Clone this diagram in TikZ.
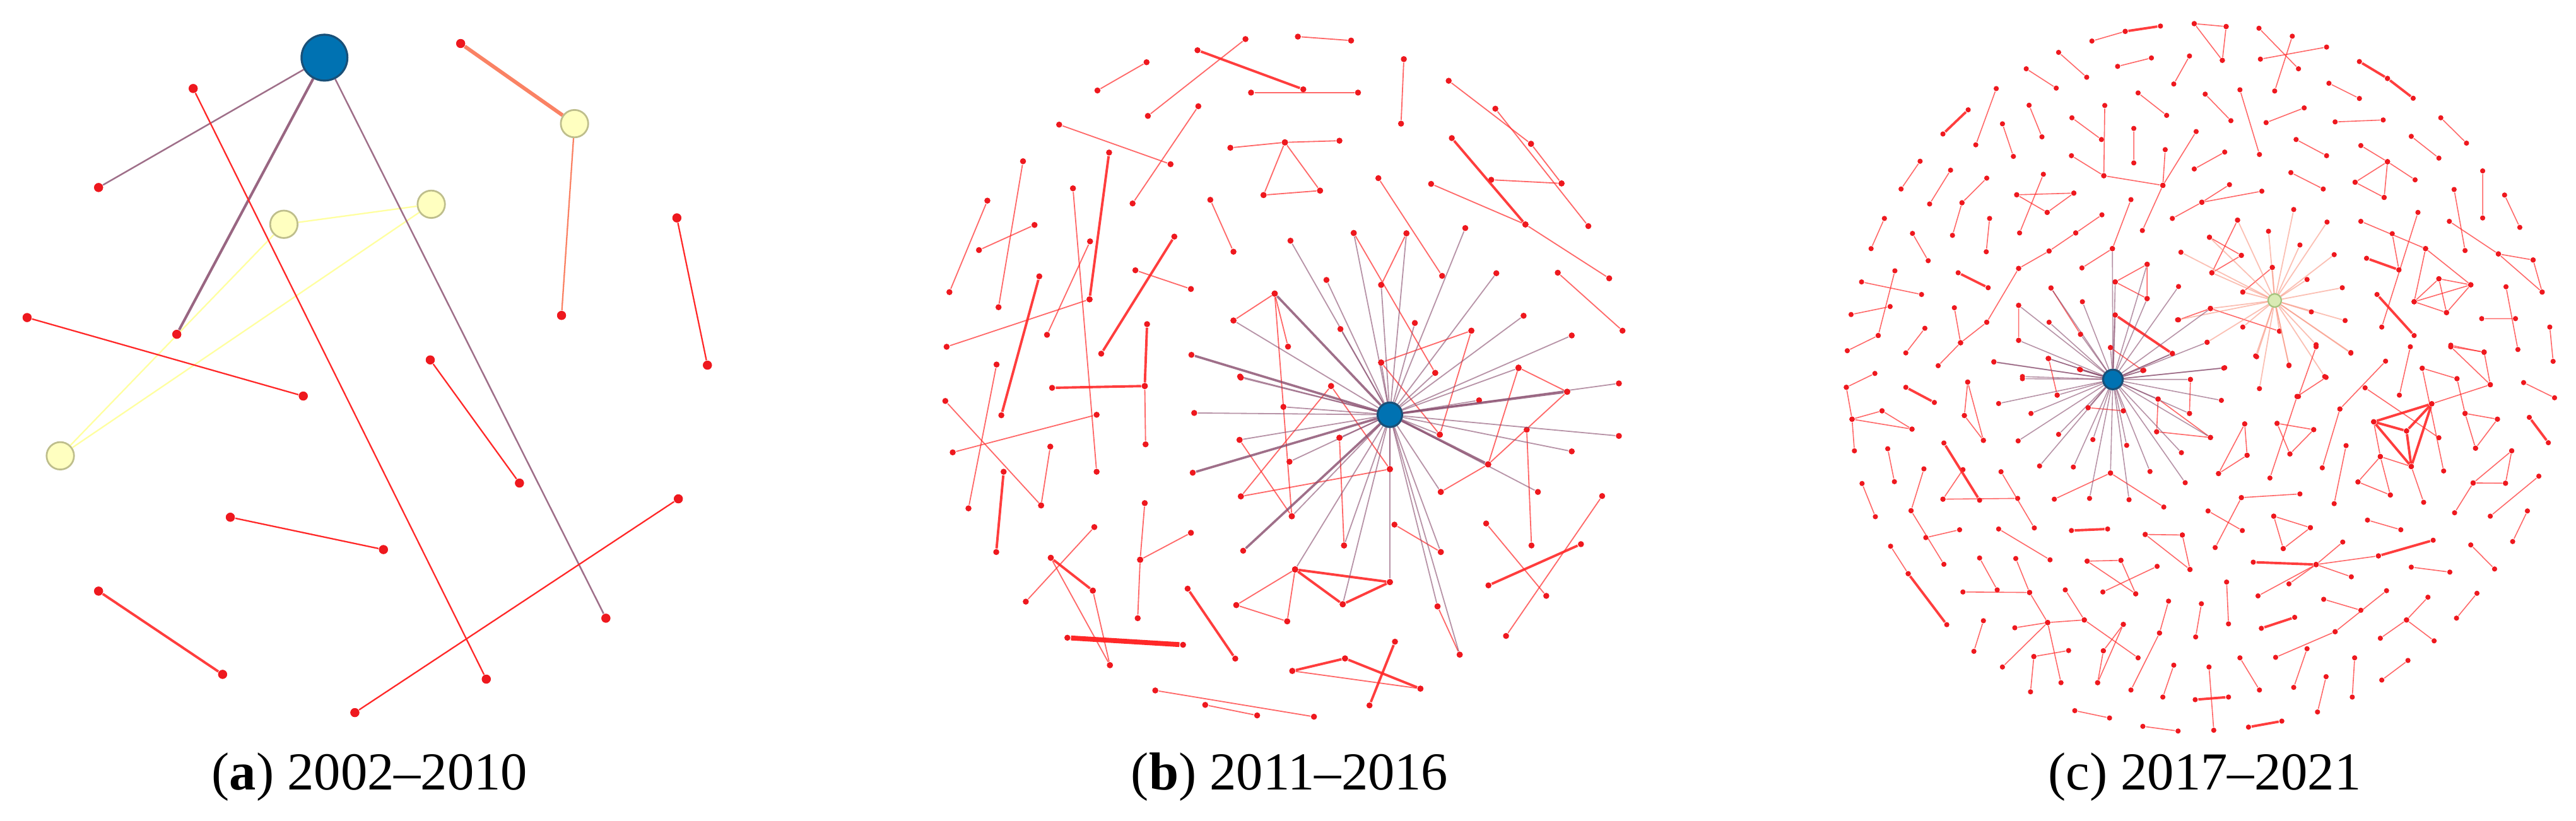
\documentclass[tikz,border=0pt]{standalone}
\usepackage{fontspec}
\setmainfont{Liberation Serif}
\definecolor{dotred}{RGB}{238,24,30}
\definecolor{linkred}{RGB}{255,40,40}
\definecolor{linkpurple}{RGB}{135,75,108}
\definecolor{hubblue}{RGB}{0,114,178}
\definecolor{hubrim}{RGB}{25,80,120}
\definecolor{paleyellow}{RGB}{255,255,192}
\definecolor{yellowrim}{RGB}{190,190,140}
\definecolor{salmon}{RGB}{250,130,100}
\definecolor{paleline}{RGB}{255,255,160}
\definecolor{palegreen}{RGB}{218,235,180}
\definecolor{greenrim}{RGB}{165,195,125}
\definecolor{greenspoke}{RGB}{248,150,130}
\tikzset{
    dota/.style = {circle, fill=dotred, inner sep=0pt, minimum size=3.1pt},
    dotb/.style = {circle, fill=dotred, inner sep=0pt, minimum size=2.1pt},
    dotc/.style = {circle, fill=dotred, inner sep=0pt, minimum size=1.8pt},
    bluehub/.style = {circle, fill=hubblue, draw=hubrim, line width=0.7pt, inner sep=0pt},
    yellowdot/.style = {circle, fill=paleyellow, draw=yellowrim, line width=0.6pt, inner sep=0pt, minimum size=9.5pt},
    greenhub/.style = {circle, fill=palegreen, draw=greenrim, line width=0.5pt, inner sep=0pt, minimum size=4.6pt},
    redlink/.style = {draw=linkred, line width=0.4pt, draw opacity=0.7},
    boldlink/.style = {draw=linkred, line width=0.85pt, draw opacity=0.9},
    heavylink/.style = {draw=linkred, line width=1.7pt},
    purplelink/.style = {draw=linkpurple, line width=0.4pt, draw opacity=0.6},
    greenlink/.style = {draw=greenspoke, line width=0.4pt, draw opacity=0.6},
    caption/.style = {font=\fontsize{18.5}{22}\selectfont, anchor=base},
}

\begin{document}
\begin{tikzpicture}[x=0.02cm, y=-0.02cm]
\useasboundingbox (0,0) rectangle (1568,500);

% (a) 2002-2010
\node[bluehub, minimum size=15.9pt] (ahub) at (197.5,35.1) {};
\foreach \n/\x/\y in {ay1/349.7/75.3, ay2/262.5/124.4, ay3/172.8/136.6, ay4/36.7/277.6}
    \node[yellowdot] (\n) at (\x,\y) {};
\foreach \n/\x/\y in {ar1/280.4/26.5, ar2/117.6/53.9, ar3/60.0/114.2, ar4/412.0/132.7,
    ar5/341.8/192.1, ar6/16.5/193.4, ar7/107.6/203.6, ar8/430.6/222.4, ar9/261.9/219.2,
    ar10/184.6/241.2, ar11/316.2/294.2, ar12/412.9/303.8, ar13/140.2/315.0, ar14/233.4/334.7,
    ar15/60.0/360.0, ar16/368.8/376.5, ar17/135.5/410.7, ar18/296.0/413.6, ar19/216.0/434.0}
    \node[dota] (\n) at (\x,\y) {};
\draw[draw=paleline, line width=0.5pt] (ay3) -- (ay2) (ay3) -- (ay4) (ay2) -- (ay4);
\draw[purplelink, line width=0.55pt, draw opacity=0.8] (ahub) -- (ar3) (ahub) -- (ar16);
\draw[purplelink, line width=0.9pt, draw opacity=0.85] (ahub) -- (ar7);
\draw[draw=salmon, line width=1.3pt] (ar1) -- (ay1);
\draw[draw=salmon, line width=0.5pt] (ay1) -- (ar5);
\draw[redlink, line width=0.5pt, draw opacity=1] (ar2) -- (ar18) (ar6) -- (ar10) (ar4) -- (ar8)
    (ar9) -- (ar11) (ar13) -- (ar14) (ar12) -- (ar19);
\draw[boldlink] (ar15) -- (ar17);
% dots back on top of the crossing lines
\foreach \n in {ar1,ar2,ar3,ar4,ar5,ar6,ar7,ar8,ar9,ar10,ar11,ar12,ar13,ar14,ar15,ar16,ar17,ar18,ar19}
    \fill[dotred] (\n) circle[radius=1.55pt];
\node[caption] (capa) at (225,481) {(\textbf{a}) 2002\textendash 2010};

% (b) 2011-2016
\node[bluehub, minimum size=8.5pt] (bhub) at (846,252.6) {};
\foreach \xa/\ya/\xb/\yb [count=\i] in {790.0/22.3/822.4/24.7, 758.1/23.8/698.7/70.6,
    697.9/37.9/668.0/55.1, 761.5/56.4/826.6/56.4, 854.5/36.0/852.8/75.3, 881.8/49.2/931.9/87.6,
    910.2/66.2/966.8/137.7, 931.9/87.6/950.5/111.7, 907.7/109.5/950.5/111.7, 871.1/112.0/928.5/136.7,
    928.5/136.7/979.5/169.5, 839.0/108.5/877.8/168.0, 644.7/75.9/712.5/100.0, 729.4/64.7/689.4/123.9,
    748.9/90.0/782.1/86.7, 782.1/86.7/815.3/85.7, 782.1/86.7/769.1/118.8, 782.1/86.7/803.5/116.1,
    769.1/118.8/803.5/116.1, 622.7/98.2/607.8/187.1, 601.0/122.2/577.9/177.9, 629.7/137.0/595.9/152.3,
    653.1/114.7/667.5/287.3, 663.5/147.0/637.3/203.9, 663.2/182.3/576.2/211.2, 691.1/164.6/724.9/176.0,
    736.7/121.7/750.8/153.3, 696.8/235.1/697.3/270.6, 606.6/222.0/589.5/309.6, 575.4/244.2/633.7/307.8,
    579.9/275.5/667.5/252.6, 639.3/272.0/633.7/307.8, 666.1/321.0/624.4/366.4, 696.8/306.4/694.0/340.9,
    694.0/340.9/692.5/376.5, 694.0/340.9/724.9/324.5, 639.6/339.7/675.6/405.1, 665.2/359.7/675.6/405.1,
    703.2/420.5/799.8/436.5, 733.6/429.3/765.2/435.7, 786.6/408.6/864.6/419.4, 904.6/318.8/941.2/362.9,
    975.2/302.1/916.7/387.3, 929.3/261.7/932.2/332.2, 924.3/223.9/953.9/238.6, 953.9/238.6/905.8/282.8,
    924.3/223.9/905.8/282.8, 905.8/282.8/877.0/299.6, 948.2/166.1/987.6/201.4, 824.0/141.9/873.6/227.1,
    856.1/142.1/840.7/173.5, 895.6/201.4/840.7/220.8, 895.6/201.4/876.4/264.7, 775.9/178.8/750.8/195.2,
    775.9/178.8/784.0/211.1, 775.9/178.8/786.3/314.4, 810.2/235.1/755.3/302.3, 810.2/235.1/846.0/285.7,
    754.5/267.9/786.3/314.4, 755.3/302.3/846.0/285.7, 815.3/266.6/818.1/332.2, 848.8/319.5/877.0/336.2,
    788.3/346.8/752.5/368.5, 752.5/368.5/783.5/378.4, 788.3/346.8/783.5/378.4, 875.0/369.3/888.5/398.7,
    840.7/220.8/876.4/264.7} {
    \node[dotb] (bt\i-a) at (\xa,\ya) {};
    \node[dotb] (bt\i-b) at (\xb,\yb) {};
    \draw[redlink] (bt\i-a) -- (bt\i-b);
}
\foreach \xa/\ya/\xb/\yb [count=\i] in {728.9/30.6/793.3/54.4, 675.1/92.9/663.2/182.3,
    632.6/168.3/609.5/252.9, 714.8/144.1/670.3/215.4, 698.2/197.4/696.8/235.1, 640.4/236.2/696.8/235.1,
    610.9/287.3/606.4/336.2, 639.6/339.7/665.2/359.7, 722.9/358.5/751.9/401.1, 883.7/84.1/928.5/136.7,
    786.6/408.6/818.7/401.0, 818.7/401.0/864.6/419.4, 849.1/390.8/833.6/429.6, 906.0/356.5/962.3/331.4,
    788.3/346.8/846.0/354.5, 788.3/346.8/817.3/368.0, 817.3/368.0/846.0/354.5} {
    \node[dotb] (bb\i-a) at (\xa,\ya) {};
    \node[dotb] (bb\i-b) at (\xb,\yb) {};
    \draw[boldlink] (bb\i-a) -- (bb\i-b);
}
\node[dotb] (bh-a) at (649.7,388.4) {};
\node[dotb] (bh-b) at (720.1,392.7) {};
\draw[heavylink] (bh-a) -- (bh-b);
\foreach \x/\y [count=\i] in {785.5/146.6, 807.4/170.5, 824.0/141.9, 856.1/142.1, 891.9/138.9,
    910.8/166.4, 927.4/192.3, 956.7/204.3, 815.9/200.4, 840.7/173.5, 861.2/196.7, 750.8/195.2,
    754.8/229.3, 924.3/224.2, 840.7/220.8, 985.4/233.5, 985.4/265.5, 956.7/274.9, 936.1/299.6,
    877.0/299.6, 877.0/336.2, 888.5/398.7, 875.0/369.3, 846.0/354.5, 817.3/368.0, 818.1/332.2,
    788.3/346.8, 786.3/314.4, 784.9/281.2, 726.9/251.5, 754.5/267.9, 755.3/230.0, 781.2/247.8,
    815.3/266.6, 876.4/264.7, 846.0/285.7, 900.3/243.8, 873.6/227.1} {
    \node[dotb] (bs\i) at (\x,\y) {};
    \draw[purplelink] (bhub) -- (bs\i);
}
\foreach \x/\y [count=\i] in {775.9/178.8, 725.2/216.1, 756.7/335.4, 726.0/287.9, 905.8/282.8, 953.9/238.6} {
    \node[dotb] (bk\i) at (\x,\y) {};
    \draw[purplelink, line width=0.8pt, draw opacity=0.8] (bhub) -- (bk\i);
}
\node[caption] (capb) at (785,481) {(\textbf{b}) 2011\textendash 2016};

% (c) 2017-2021
\node[bluehub, minimum size=6.8pt] (chub) at (1286.1,231.1) {};
\node[greenhub] (cgreen) at (1384.6,183.0) {};
\begin{scope}[shift={(1113.7,0)}, xscale=0.2897, yscale=0.147]
\foreach \xa/\ya/\xb/\yb [count=\i] in {551/170/621/130, 766/98/833/110, 766/98/825/250,
    833/110/825/250, 902/117/985/285, 905/245/1044/195, 972/150/935/377, 481/217/540/320,
    605/275/676/240, 756/232/723/348, 413/285/476/365, 1049/345/1113/408, 350/367/307/600,
    419/436/446/567, 363/513/386/648, 648/385/708/478, 789/390/843/500, 862/372/903/640,
    578/437/576/728, 509/488/571/578, 508/645/576/728, 576/728/700/768, 700/768/770/545,
    700/768/705/620, 700/768/657/955, 639/532/639/675, 917/508/997/447, 1062/505/1163/497,
    1284/488/1338/593, 980/578/1044/645, 1222/565/1280/655, 830/630/766/700, 1116/603/1172/670,
    1172/670/1230/745, 1172/670/1104/755, 1172/670/1165/818, 1104/755/1165/818, 190/668/150/783,
    254/705/210/845, 330/738/278/840, 278/840/258/975, 449/722/399/965, 393/807/513/800,
    393/807/457/880, 513/800/457/880, 969/715/1037/783, 1372/708/1372/903, 840/765/782/838,
    782/838/908/792, 782/838/720/905, 1312/785/1335/1038, 1418/808/1450/942, 633/827/594/1030,
    594/1030/530/1110, 115/905/87/1030, 336/905/329/1043, 174/967/207/1080, 572/890/517/965,
    517/965/461/1040, 461/1040/397/1112, 397/1112/330/1335, 330/1335/275/1420, 275/1420/228/1515,
    262/1275/275/1420, 1116/917/1252/1030, 1182/968/1196/1118, 1236/880/1160/1355,
    1252/1030/1347/1180, 1252/1030/1228/1250, 1228/1250/1347/1180, 1228/1250/1296/1295,
    1296/1295/1347/1180, 1280/1155/1296/1295, 1280/1155/1228/1250, 1280/1155/1347/1180,
    1302/917/1405/1052, 1405/1052/1478/1077, 1405/1052/1497/1210, 1478/1077/1497/1210,
    1421/1188/1446/1448, 1370/1320/1441/1320, 1513/1355/1520/1497, 1305/1430/1375/1460,
    137/1122/102/1390, 67/1168/193/1220, 45/1303/127/1270, 102/1390/37/1453, 200/1360/160/1462,
    600/1168/667/1095, 600/1168/667/1237, 667/1095/667/1237, 397/1265/397/1410, 465/1193/527/1385,
    733/1325/800/1278, 590/1440/658/1535, 857/912/803/1130, 798/983/865/1058, 803/1130/865/1058,
    868/1210/930/1108, 800/1278/945/1372} {
    \node[dotc] (cut\i-a) at (\xa,\ya) {};
    \node[dotc] (cut\i-b) at (\xb,\yb) {};
    \draw[redlink, line width=0.35pt] (cut\i-a) -- (cut\i-b);
}
\foreach \xa/\ya/\xb/\yb [count=\i] in {621/130/695/108, 291/455/238/555, 1113/255/1172/325,
    1172/325/1226/407, 1128/1070/1196/1118, 1150/1220/1228/1390, 270/1130/333/1192, 600/1305/720/1465} {
    \node[dotc] (cub\i-a) at (\xa,\ya) {};
    \node[dotc] (cub\i-b) at (\xb,\yb) {};
    \draw[boldlink] (cub\i-a) -- (cub\i-b);
}
\foreach \x/\y [count=\i] in {857/912, 922/958, 975/868, 1045/920, 988/1015, 1060/1055, 1003/1158,
    1077/1192, 1083/1328, 1012/1292, 945/1372, 868/1355, 897/1478, 1095/1463, 1022/1428, 965/1515,
    1040/1560, 800/1278, 738/1045, 798/983, 868/1210, 930/1108, 793/1418, 731/1325, 803/1130} {
    \node[dotc] (cug\i) at (\x,\y) {};
    \draw[greenlink] (cgreen) -- (cug\i);
}
\foreach \x/\y [count=\i] in {397/1265, 465/1193, 461/1335, 531/1250, 594/1030, 733/1187, 667/1095,
    667/1237, 800/1278, 793/1418, 828/1525, 345/1500, 397/1410, 459/1485, 527/1385, 600/1168,
    600/1305, 720/1465, 658/1535, 590/1440, 525/1530, 405/1560} {
    \node[dotc] (cus\i) at (\x,\y) {};
    \draw[purplelink, line width=0.35pt] (chub) -- (cus\i);
}
\end{scope}
\begin{scope}[shift={(1113.7,211.2)}, xscale=0.2897, yscale=0.1592]
\foreach \xa/\ya/\xb/\yb [count=\i] in {35/155/95/102, 35/155/47/277, 47/277/52/398, 47/277/110/245,
    110/245/173/315, 47/277/173/315, 290/135/283/263, 290/135/323/358, 283/263/323/358,
    122/390/136/516, 238/583/395/580, 238/583/280/470, 360/478/430/693, 68/523/96/650,
    198/467/171/627, 171/627/240/832, 202/730/273/700, 128/763/165/868, 355/697/463/815,
    472/583/590/483, 590/483/702/613, 663/718/741/720, 663/718/757/852, 741/720/757/852,
    315/808/352/930, 280/938/420/940, 391/810/420/940, 420/940/458/1055, 541/820/612/817,
    541/820/643/945, 612/817/643/945, 574/938/688/840, 495/930/535/1045, 535/1045/648/1190,
    389/1075/458/1055, 458/1055/535/1045, 458/1055/363/1225, 458/1055/486/1285, 323/1048/303/1165,
    429/1185/502/1162, 429/1185/422/1320, 617/1062/575/1163, 617/1062/563/1285, 575/1163/563/1285,
    712/973/693/1095, 693/1095/633/1313, 781/983/769/1110, 834/900/838/1060, 723/1218/700/1340,
    797/1225/807/1467, 515/1392/588/1420, 658/1452/732/1470, 862/1190/903/1313, 1003/1155/975/1303,
    1043/1262/1025/1397, 1103/1190/1098/1340, 1215/1200/1160/1275, 1038/966/1116/1008,
    1170/933/1062/1090, 1062/1090/937/1188, 1257/958/1212/1045, 1212/1045/1157/1115,
    1212/1045/1270/1125, 1360/943/1317/1038, 1347/758/1397/850, 1222/843/1303/862,
    1022/833/1078/747, 1022/833/1153/800, 1022/833/1096/880, 1022/833/965/907, 1022/833/900/953,
    933/648/1010/692, 933/648/953/772, 1010/692/953/772, 865/577/988/563, 865/577/810/768,
    795/628/867/703, 1130/663/1200/700, 1466/628/1435/745, 1490/495/1388/648, 1433/398/1352/521,
    1352/521/1313/635, 1352/521/1420/522, 1433/398/1420/522, 1458/137/1523/195, 1143/287/1157/420,
    1157/420/1110/517, 1110/517/1178/567, 1157/420/1178/567, 1157/420/1222/458, 1265/218/1388/145,
    1222/458/1248/595, 1125/157/1280/348, 1197/185/1220/0, 1245/82/1318/122, 1245/82/1290/475,
    1318/122/1335/255, 1335/255/1403/277, 1403/277/1357/388, 1335/255/1357/388, 1305/0/1375/20,
    1375/20/1388/145, 1305/0/1388/145, 1168/55/1072/238, 1072/238/1035/463, 1085/378/1060/600,
    982/190/925/502, 982/190/1043/117, 940/293/1017/317, 1017/317/967/410, 940/293/967/410,
    872/295/877/415, 877/415/817/485, 872/295/817/485, 690/200/687/325, 687/325/800/347,
    690/200/800/347, 756/255/758/125, 543/233/617/245, 460/45/478/185, 1022/0/985/190} {
    \node[dotc] (clt\i-a) at (\xa,\ya) {};
    \node[dotc] (clt\i-b) at (\xb,\yb) {};
    \draw[redlink, line width=0.35pt] (clt\i-a) -- (clt\i-b);
}
\foreach \xa/\ya/\xb/\yb [count=\i] in {160/155/220/213, 240/368/315/587, 165/868/246/1063,
    890/824/1022/833, 1153/800/1268/740, 508/703/584/697, 768/1350/838/1340, 880/1455/950/1432,
    907/1077/977/1035, 1470/270/1510/367, 1143/287/1265/218, 1143/287/1212/322, 1212/322/1265/218,
    1143/287/1222/458, 1212/322/1222/458, 1265/218/1222/458} {
    \node[dotc] (clb\i-a) at (\xa,\ya) {};
    \node[dotc] (clb\i-b) at (\xb,\yb) {};
    \draw[boldlink] (clb\i-a) -- (clb\i-b);
}
\foreach \x/\y [count=\i] in {895/35, 903/160, 965/70, 1095/22} {
    \node[dotc] (clg\i) at (\x,\y) {};
    \draw[greenlink] (cgreen) -- (clg\i);
}
\foreach \x/\y [count=\i] in {345/57, 405/122, 355/217, 396/360, 423/255, 441/456, 481/335, 512/460,
    546/580, 553/355, 590/483, 629/585, 624/377, 673/477, 739/405, 747/520, 756/255, 800/347,
    823/205, 758/125, 830/80, 660/90, 720/25, 478/185, 460/45, 527/88, 690/200, 543/233, 617/245} {
    \node[dotc] (cls\i) at (\x,\y) {};
    \draw[purplelink, line width=0.35pt] (chub) -- (cls\i);
}
\end{scope}
\node[caption] (capc) at (1342,481) {(c) 2017\textendash 2021};
\end{tikzpicture}
\end{document}
